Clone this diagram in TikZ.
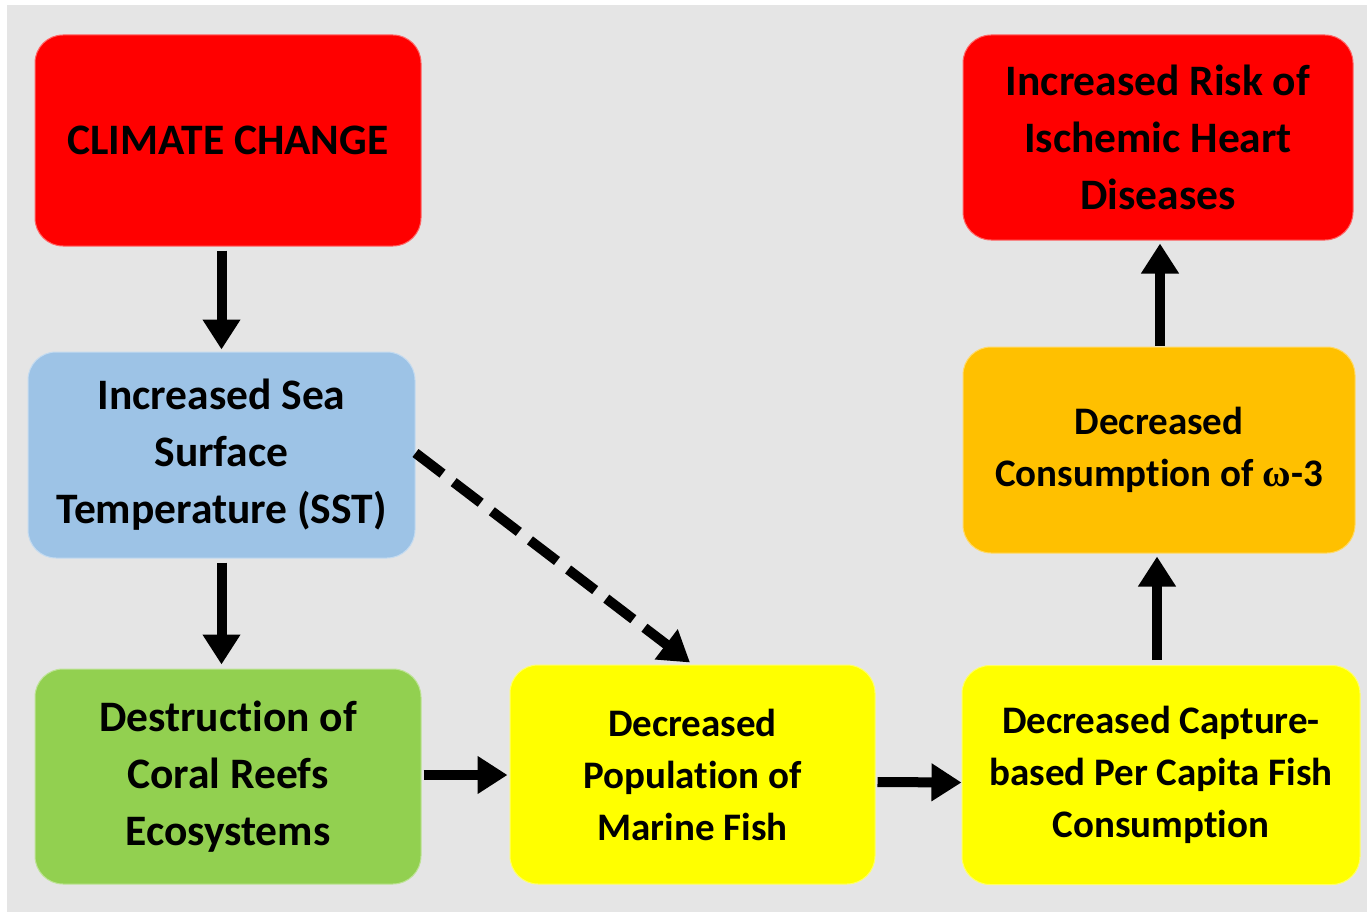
\documentclass[tikz,border=0pt]{standalone}
\usepackage{fontspec}
\setmainfont{Carlito}[Ligatures=NoCommon]
\newfontfamily\greekserif{Liberation Serif}
\usetikzlibrary{arrows.meta}
\definecolor{bggray}{HTML}{E5E5E5}
\definecolor{boxred}{HTML}{FF0000}
\definecolor{boxblue}{HTML}{9DC3E6}
\definecolor{boxgreen}{HTML}{92D050}
\definecolor{boxyellow}{HTML}{FFFF00}
\definecolor{boxorange}{HTML}{FFC000}
\tikzset{
  box/.style={draw=#1!60!white, line width=1pt, fill=#1, rounded corners=28pt,
    align=center, inner sep=0pt, font=\bfseries\fontsize{43.5}{57}\selectfont},
  tightbox/.style={box=#1, font=\bfseries\fontsize{39}{52}\selectfont},
  arr/.style={line width=10pt, -{Triangle[width=36pt,length=30pt]}},
  darr/.style={line width=10pt, dash pattern=on 34pt off 14pt, -{Triangle[width=36pt,length=30pt]}}
}
\begin{document}
\begin{tikzpicture}[x=1pt,y=-1pt]
\useasboundingbox (0,0) rectangle (1367,912);
\fill[white] (0,0) rectangle (1367,912);
\fill[bggray] (7,5) rectangle (1367,912);

\node[box=boxred, minimum width=386pt, minimum height=211pt] (cc) at (228,140.5) {CLIMATE CHANGE};
\node[box=boxblue, minimum width=387pt, minimum height=206pt] (sst) at (221.5,455) {\raisebox{0pt}{}Increased Sea\\Surface\\Temperature (SST)};
\node[box=boxgreen, minimum width=386pt, minimum height=215pt] (coral) at (228,776.5) {Destruction of\\Coral Reefs\\Ecosystems};
\node[tightbox=boxyellow, minimum width=365pt, minimum height=219pt] (fish) at (692.5,774.5) {Decreased\\Population of\\Marine Fish};
\node[tightbox=boxyellow, minimum width=398pt, minimum height=219pt] (capt) at (1161,775) {Decreased Capture-\\based Per Capita Fish\\Consumption};
\node[tightbox=boxorange, minimum width=392pt, minimum height=206pt] (omega) at (1159,450) {Decreased\\Consumption of {\greekserif ω}-3};
\node[box=boxred, minimum width=390pt, minimum height=205pt] (risk) at (1158,137.5) {Increased Risk of\\Ischemic Heart\\Diseases};

\draw[arr] ([yshift=-4pt]sst.north |- cc.south) -- ([yshift=2pt]sst.north);
\draw[arr] ([yshift=-4pt]sst.south) -- ([yshift=4pt]sst.south |- coral.north);
\draw[arr] ([xshift=2pt,yshift=1.5pt]coral.east) -- ([xshift=-2pt,yshift=1.5pt]coral.east -| fish.west);
\draw[arr] ([xshift=2pt,yshift=-7.5pt]fish.east) -- ([yshift=-7.5pt]capt.west);
\draw[arr] ([xshift=-4pt,yshift=5pt]capt.north) -- ([xshift=-4pt,yshift=-3pt]capt.north |- omega.south);
\draw[arr] ([xshift=1pt,yshift=1pt]omega.north) -- ([xshift=1pt,yshift=-3pt]omega.north |- risk.south);
\draw[darr] ([yshift=2pt]sst.east) -- ([xshift=-2.5pt,yshift=2pt]fish.north);
\end{tikzpicture}
\end{document}
